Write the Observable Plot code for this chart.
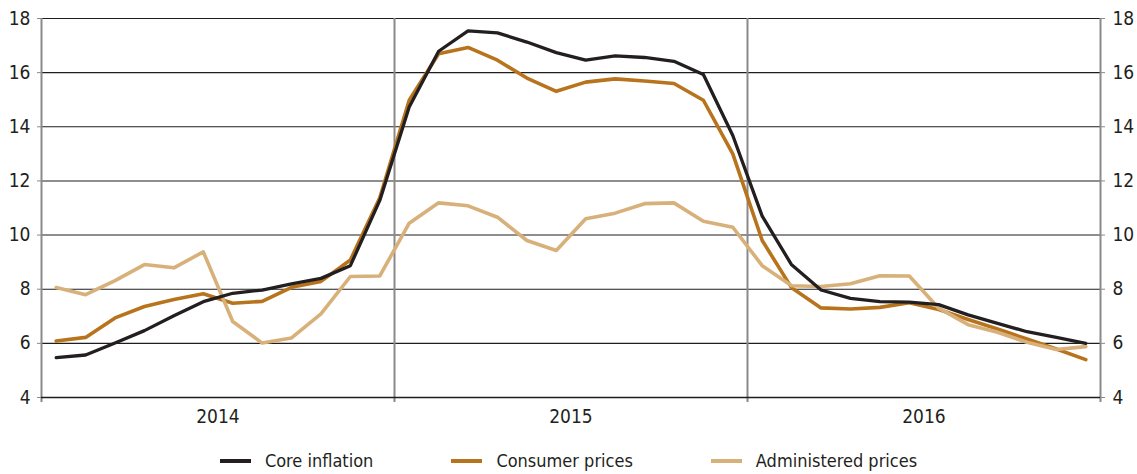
<!DOCTYPE html>
<html>
<head>
<meta charset="utf-8">
<script src="https://cdn.jsdelivr.net/npm/d3@7"></script>
<script src="https://cdn.jsdelivr.net/npm/@observablehq/plot@0.6"></script>
<style>
  html, body { margin: 0; padding: 0; background: #fff; }
  body { width: 1137px; height: 474px; overflow: hidden; font-family: 'Liberation Sans Narrow', 'DejaVu Sans Condensed', sans-serif; }
  #legend { display: flex; justify-content: center; gap: 78px; margin-top: 9px; font-size: 18px; color: #231f20; line-height: 24px; }
  .item { display: flex; align-items: center; }
  .sw { width: 31px; height: 4px; margin-right: 14px; }
</style>
</head>
<body>
<div id="chart"></div>
<div id="legend"></div>
<script>
const years = ["2014", "2015", "2016"];
const seriesNames = ["Core inflation", "Consumer prices", "Administered prices"];
const seriesColors = ["#231f20", "#b8741c", "#d8b07a"];
const yTicks = [4, 6, 8, 10, 12, 14, 16, 18];

// monthly values Jan 2014 .. Dec 2016
const coreInflation = [5.47, 5.57, 6.01, 6.47, 7.02, 7.54, 7.85, 7.97, 8.2, 8.4, 8.87, 11.28,
  14.73, 16.79, 17.54, 17.47, 17.13, 16.74, 16.46, 16.62, 16.56, 16.42, 15.93, 13.68,
  10.7, 8.9, 7.97, 7.66, 7.54, 7.52, 7.43, 7.05, 6.74, 6.43, 6.22, 6.0];
const consumerPrices = [6.09, 6.22, 6.94, 7.36, 7.62, 7.83, 7.48, 7.55, 8.07, 8.29, 9.08, 11.38,
  14.98, 16.7, 16.93, 16.46, 15.8, 15.31, 15.65, 15.77, 15.69, 15.6, 14.98, 13.0,
  9.8, 8.05, 7.31, 7.27, 7.33, 7.5, 7.25, 6.88, 6.53, 6.16, 5.79, 5.4];
const administeredPrices = [8.06, 7.8, 8.32, 8.91, 8.79, 9.38, 6.81, 6.01, 6.2, 7.09, 8.47, 8.49,
  10.44, 11.19, 11.08, 10.66, 9.8, 9.43, 10.6, 10.81, 11.16, 11.19, 10.51, 10.29,
  8.87, 8.13, 8.1, 8.2, 8.5, 8.49, 7.3, 6.69, 6.41, 6.04, 5.77, 5.88];

const seriesValues = [coreInflation, consumerPrices, administeredPrices];
const data = [];
seriesValues.forEach((vals, s) => vals.forEach((v, i) => data.push({series: seriesNames[s], m: i + 0.5, v})));
const nMonths = coreInflation.length;

const fontFam = "'Liberation Sans Narrow', 'DejaVu Sans Condensed', sans-serif";
const drawOrder = [1, 2, 0];

const chart = Plot.plot({
  width: 1137,
  height: 440,
  marginLeft: 41,
  marginRight: 37,
  marginTop: 18,
  marginBottom: 43,
  style: {fontFamily: fontFam, fontSize: "19px", color: "#231f20", background: "#fff", overflow: "visible"},
  x: {domain: [0, nMonths]},
  y: {domain: [4, 18]},
  marks: [
    Plot.ruleY(yTicks.slice(1), {stroke: "#1e1e1e", strokeWidth: 1.1}),
    Plot.ruleX(years.map((y, i) => i * 12).concat([nMonths]), {stroke: "#8a8a8a", strokeWidth: 2, insetBottom: -5}),
    Plot.ruleY([4], {stroke: "#1e1e1e", strokeWidth: 1.3}),
    ...drawOrder.map(s => Plot.line(data.filter(d => d.series === seriesNames[s]), {
      x: "m", y: "v", stroke: seriesColors[s], strokeWidth: s === 0 ? 3.3 : 3.6, strokeLinejoin: "round"
    })),
    Plot.axisY({anchor: "left", ticks: yTicks, tickSize: 4, tickPadding: 7, stroke: "#8a8a8a", label: null, fontSize: 19}),
    Plot.axisY({anchor: "right", ticks: yTicks, tickSize: 4, tickPadding: 8, stroke: "#8a8a8a", label: null, fontSize: 19}),
    Plot.axisX({ticks: years.map((y, i) => i * 12 + 6), tickFormat: (d) => years[(d - 6) / 12], tickSize: 0, tickPadding: 12, label: null, fontSize: 19})
  ]
});
document.getElementById("chart").appendChild(chart);

const legend = document.getElementById("legend");
seriesNames.forEach((name, i) => {
  const item = document.createElement("div");
  item.className = "item";
  const sw = document.createElement("span");
  sw.className = "sw";
  sw.style.background = seriesColors[i];
  const t = document.createElement("span");
  t.textContent = name;
  item.appendChild(sw);
  item.appendChild(t);
  legend.appendChild(item);
});
</script>
</body>
</html>
